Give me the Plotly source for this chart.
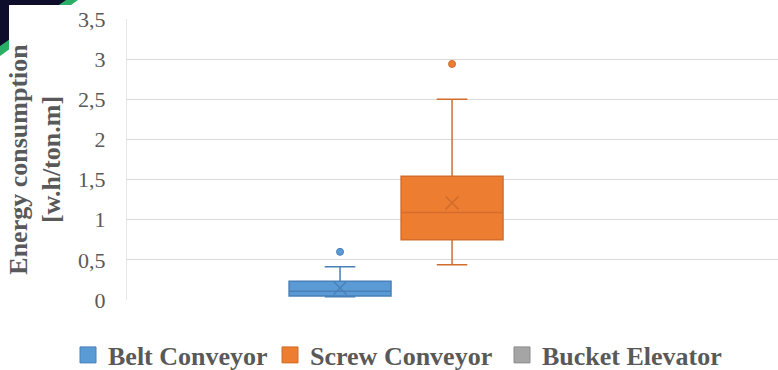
import plotly.graph_objects as go

# ---- data ----
series = ["Belt Conveyor", "Screw Conveyor", "Bucket Elevator"]
positions = [1, 2, 3]
q1 = [0.05, 0.75, None]
median = [0.11, 1.09, None]
q3 = [0.235, 1.54, None]
lowerfence = [0.04, 0.44, None]
upperfence = [0.415, 2.50, None]
means = [0.15, 1.21, None]
outliers = [[0.60], [2.94], []]
fill_colors = ["#5B9BD5", "#ED7D31", "#A5A5A5"]
line_colors = ["#4A80B8", "#D26D2C", "#8C8C8C"]
tick_vals = [0, 0.5, 1, 1.5, 2, 2.5, 3, 3.5]
tick_text = ["0", "0,5", "1", "1,5", "2", "2,5", "3", "3,5"]

W, H = 778, 370
L, R, T, B = 127, 0, 19, 70
legend_left_px = [78, 280, 512]

fig = go.Figure()
for i in range(2):
    fig.add_trace(go.Box(
        x=[positions[i]], q1=[q1[i]], median=[median[i]], q3=[q3[i]],
        lowerfence=[lowerfence[i]], upperfence=[upperfence[i]],
        width=0.91, whiskerwidth=0.3, boxpoints=False,
        fillcolor=fill_colors[i], line=dict(color=line_colors[i], width=1.5),
        showlegend=False, hoverinfo="skip"))
    fig.add_trace(go.Scatter(
        x=[positions[i]] * len(outliers[i]), y=outliers[i], mode="markers",
        marker=dict(symbol="circle", size=7, color=fill_colors[i],
                    line=dict(color=line_colors[i], width=1)),
        showlegend=False, hoverinfo="skip"))
    fig.add_trace(go.Scatter(
        x=[positions[i]], y=[means[i]], mode="markers",
        marker=dict(symbol="x-thin", size=13,
                    line=dict(color=line_colors[i], width=1.5)),
        showlegend=False, hoverinfo="skip"))

legend_names = ["legend", "legend2", "legend3"]
for i, name in enumerate(series):
    fig.add_trace(go.Scatter(
        x=[None], y=[None], mode="markers", name=name, legend=legend_names[i],
        marker=dict(symbol="square", size=18, color=fill_colors[i],
                    line=dict(color=line_colors[i], width=1))))

# corner decoration (dark triangle with green edge, as in the reference screenshot)
def px(x):
    return (x - L) / (W - L - R)

def py(y):
    return (H - B - y) / (H - T - B)

shapes = [
    dict(type="path", xref="paper", yref="paper", layer="below",
         path=f"M {px(0)},{py(0)} L {px(78)},{py(0)} L {px(0)},{py(56)} Z",
         fillcolor="#2BAE66", line=dict(width=0)),
    dict(type="path", xref="paper", yref="paper", layer="below",
         path=f"M {px(0)},{py(0)} L {px(66)},{py(0)} L {px(0)},{py(46)} Z",
         fillcolor="#0E0E2C", line=dict(width=0)),
    dict(type="rect", xref="paper", yref="paper", layer="below",
         x0=px(9), y0=py(5), x1=px(W), y1=py(H),
         fillcolor="white", line=dict(width=0)),
]

legend_font = dict(size=26, family="Liberation Serif", color="#595959", weight="bold")
legend_common = dict(orientation="h", xref="container", yref="container",
                     xanchor="left", yanchor="middle", y=1 - 355 / H,
                     font=legend_font, itemwidth=30, borderwidth=0,
                     bgcolor="rgba(0,0,0,0)")

fig.update_layout(
    width=W, height=H,
    margin=dict(l=L, r=R, t=T, b=B, autoexpand=False),
    paper_bgcolor="white", plot_bgcolor="white",
    font=dict(family="Liberation Serif", color="#595959"),
    shapes=shapes,
    showlegend=True,
    legend=dict(x=(legend_left_px[0] - 10) / W, **legend_common),
    legend2=dict(x=(legend_left_px[1] - 10) / W, **legend_common),
    legend3=dict(x=(legend_left_px[2] - 10) / W, **legend_common),
    xaxis=dict(range=[-0.902, 4.91], showticklabels=False, showgrid=False,
               zeroline=False, fixedrange=True, automargin=False),
    yaxis=dict(range=[0, 3.5], tickvals=tick_vals, ticktext=tick_text,
               tickfont=dict(size=22, family="Liberation Serif", color="#595959"),
               showgrid=True, gridcolor="#D9D9D9", gridwidth=1,
               zeroline=False, showline=True, linecolor="#E6E6E6", linewidth=1,
               ticks="", ticklen=0, ticklabelstandoff=16, automargin=False,
               title=dict(text="Energy consumption<br>[w.h/ton.m]",
                          font=dict(size=26, family="Liberation Serif",
                                    color="#595959", weight="bold"),
                          standoff=9)),
)

fig.write_html("out.html", config={"displayModeBar": False},
               post_script="document.body.style.margin='0';")
